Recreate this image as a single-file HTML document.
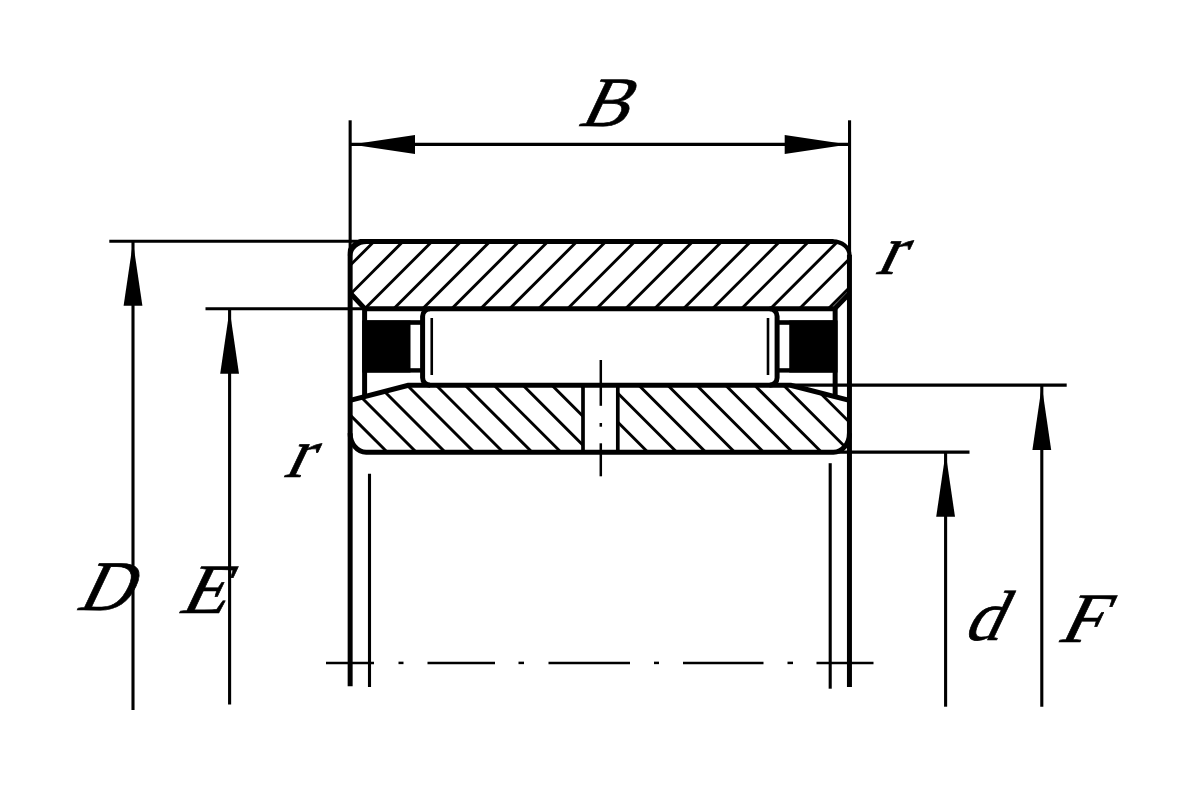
<!DOCTYPE html>
<html lang="en"><head><meta charset="utf-8"><title>Needle roller bearing dimensions</title>
<style>html,body{margin:0;padding:0;background:#fff;}body{width:1200px;height:812px;overflow:hidden;}svg{display:block;}svg line,svg path,svg polyline{stroke:#000;fill:none;stroke-linecap:butt;}svg text{font-family:"Liberation Serif","DejaVu Serif",serif;font-style:normal;fill:#000;}.fill{fill:#000 !important;stroke:none !important;}</style></head><body>
<svg width="1200" height="812" viewBox="0 0 1200 812" role="img" aria-label="Needle roller bearing cross-section with dimensions B, D, E, d, F and chamfer r">
<rect x="0" y="0" width="1200" height="812" fill="#fff"/>
<defs>
<clipPath id="co"><path d="M350.15,255.200 A16.5,13.8 0 0 1 366.65,241.4 L832.95,241.4 A16.5,13.8 0 0 1 849.45,255.200 L849.45,293.5 L834.6,308.85 L365,308.85 L350.15,293 Z"/></clipPath>
<clipPath id="ci"><path d="M350.15,400.4 L408.5,385.25 L583,385.25 L583,452.2 L366.15,452.2 A16,19 0 0 1 350.15,433.2 Z"/><path d="M617.8,385.25 L790.5,385.25 L849.45,400.4 L849.45,433.2 A16,19 0 0 1 833.45,452.2 L617.8,452.2 Z"/></clipPath>
<clipPath id="ctl"><rect x="347.65" y="238.90" width="30" height="30"/></clipPath>
</defs>
<g clip-path="url(#co)">
<line x1="237.56" y1="320.00" x2="327.56" y2="230.00" stroke-width="2.9" />
<line x1="266.54" y1="320.00" x2="356.54" y2="230.00" stroke-width="2.9" />
<line x1="295.52" y1="320.00" x2="385.52" y2="230.00" stroke-width="2.9" />
<line x1="324.50" y1="320.00" x2="414.50" y2="230.00" stroke-width="2.9" />
<line x1="353.48" y1="320.00" x2="443.48" y2="230.00" stroke-width="2.9" />
<line x1="382.46" y1="320.00" x2="472.46" y2="230.00" stroke-width="2.9" />
<line x1="411.44" y1="320.00" x2="501.44" y2="230.00" stroke-width="2.9" />
<line x1="440.42" y1="320.00" x2="530.42" y2="230.00" stroke-width="2.9" />
<line x1="469.40" y1="320.00" x2="559.40" y2="230.00" stroke-width="2.9" />
<line x1="498.38" y1="320.00" x2="588.38" y2="230.00" stroke-width="2.9" />
<line x1="527.36" y1="320.00" x2="617.36" y2="230.00" stroke-width="2.9" />
<line x1="556.34" y1="320.00" x2="646.34" y2="230.00" stroke-width="2.9" />
<line x1="585.32" y1="320.00" x2="675.32" y2="230.00" stroke-width="2.9" />
<line x1="614.30" y1="320.00" x2="704.30" y2="230.00" stroke-width="2.9" />
<line x1="643.28" y1="320.00" x2="733.28" y2="230.00" stroke-width="2.9" />
<line x1="672.26" y1="320.00" x2="762.26" y2="230.00" stroke-width="2.9" />
<line x1="701.24" y1="320.00" x2="791.24" y2="230.00" stroke-width="2.9" />
<line x1="730.22" y1="320.00" x2="820.22" y2="230.00" stroke-width="2.9" />
<line x1="759.20" y1="320.00" x2="849.20" y2="230.00" stroke-width="2.9" />
<line x1="788.18" y1="320.00" x2="878.18" y2="230.00" stroke-width="2.9" />
<line x1="817.16" y1="320.00" x2="907.16" y2="230.00" stroke-width="2.9" />
<line x1="846.14" y1="320.00" x2="936.14" y2="230.00" stroke-width="2.9" />
<line x1="875.12" y1="320.00" x2="965.12" y2="230.00" stroke-width="2.9" />
</g>
<g clip-path="url(#ci)">
<line x1="218.25" y1="370.00" x2="313.25" y2="465.00" stroke-width="2.9" />
<line x1="247.20" y1="370.00" x2="342.20" y2="465.00" stroke-width="2.9" />
<line x1="276.15" y1="370.00" x2="371.15" y2="465.00" stroke-width="2.9" />
<line x1="305.10" y1="370.00" x2="400.10" y2="465.00" stroke-width="2.9" />
<line x1="334.05" y1="370.00" x2="429.05" y2="465.00" stroke-width="2.9" />
<line x1="363.00" y1="370.00" x2="458.00" y2="465.00" stroke-width="2.9" />
<line x1="391.95" y1="370.00" x2="486.95" y2="465.00" stroke-width="2.9" />
<line x1="420.90" y1="370.00" x2="515.90" y2="465.00" stroke-width="2.9" />
<line x1="449.85" y1="370.00" x2="544.85" y2="465.00" stroke-width="2.9" />
<line x1="478.80" y1="370.00" x2="573.80" y2="465.00" stroke-width="2.9" />
<line x1="507.75" y1="370.00" x2="602.75" y2="465.00" stroke-width="2.9" />
<line x1="536.70" y1="370.00" x2="631.70" y2="465.00" stroke-width="2.9" />
<line x1="565.65" y1="370.00" x2="660.65" y2="465.00" stroke-width="2.9" />
<line x1="594.60" y1="370.00" x2="689.60" y2="465.00" stroke-width="2.9" />
<line x1="623.55" y1="370.00" x2="718.55" y2="465.00" stroke-width="2.9" />
<line x1="652.50" y1="370.00" x2="747.50" y2="465.00" stroke-width="2.9" />
<line x1="681.45" y1="370.00" x2="776.45" y2="465.00" stroke-width="2.9" />
<line x1="710.40" y1="370.00" x2="805.40" y2="465.00" stroke-width="2.9" />
<line x1="739.35" y1="370.00" x2="834.35" y2="465.00" stroke-width="2.9" />
<line x1="768.30" y1="370.00" x2="863.30" y2="465.00" stroke-width="2.9" />
<line x1="797.25" y1="370.00" x2="892.25" y2="465.00" stroke-width="2.9" />
<line x1="826.20" y1="370.00" x2="921.20" y2="465.00" stroke-width="2.9" />
<line x1="855.15" y1="370.00" x2="950.15" y2="465.00" stroke-width="2.9" />
</g>
<line x1="350.15" y1="120.30" x2="350.15" y2="260.00" stroke-width="3.1" />
<line x1="849.55" y1="120.30" x2="849.55" y2="260.00" stroke-width="3.1" />
<line x1="350.00" y1="144.40" x2="849.50" y2="144.40" stroke-width="3.1" />
<path class="fill" d="M351.5,144.4 L415,134.9 L415,153.9 Z"/>
<path class="fill" d="M848.2,144.4 L784.7,134.9 L784.7,153.9 Z"/>
<line x1="109.30" y1="241.30" x2="365.00" y2="241.30" stroke-width="3.1" />
<line x1="205.50" y1="308.70" x2="366.00" y2="308.70" stroke-width="3.1" />
<line x1="788.00" y1="385.10" x2="1066.70" y2="385.10" stroke-width="3.1" />
<line x1="833.00" y1="452.10" x2="969.50" y2="452.10" stroke-width="3.1" />
<line x1="133.00" y1="241.30" x2="133.00" y2="710.00" stroke-width="3.1" />
<line x1="229.60" y1="308.70" x2="229.60" y2="704.50" stroke-width="3.1" />
<line x1="945.60" y1="451.80" x2="945.60" y2="706.70" stroke-width="3.1" />
<line x1="1041.80" y1="384.80" x2="1041.80" y2="706.70" stroke-width="3.1" />
<path class="fill" d="M133,242.2 L123.6,305.8 L142.4,305.8 Z"/>
<path class="fill" d="M229.6,309.6 L220.2,373.8 L239.0,373.8 Z"/>
<path class="fill" d="M1041.8,385.8 L1032.399,450 L1051.2,450 Z"/>
<path class="fill" d="M945.6,452.8 L936.2,516.8 L955.0,516.8 Z"/>
<line x1="326.00" y1="662.90" x2="374.00" y2="662.90" stroke-width="2.5" />
<line x1="398.50" y1="662.90" x2="403.50" y2="662.90" stroke-width="2.5" />
<line x1="427.50" y1="662.90" x2="495.00" y2="662.90" stroke-width="2.5" />
<line x1="518.50" y1="662.90" x2="524.00" y2="662.90" stroke-width="2.5" />
<line x1="548.50" y1="662.90" x2="630.00" y2="662.90" stroke-width="2.5" />
<line x1="654.00" y1="662.90" x2="659.00" y2="662.90" stroke-width="2.5" />
<line x1="683.00" y1="662.90" x2="763.50" y2="662.90" stroke-width="2.5" />
<line x1="787.50" y1="662.90" x2="793.00" y2="662.90" stroke-width="2.5" />
<line x1="816.50" y1="662.90" x2="873.50" y2="662.90" stroke-width="2.5" />
<line x1="600.80" y1="360.00" x2="600.80" y2="405.80" stroke-width="2.5" />
<line x1="600.80" y1="423.00" x2="600.80" y2="426.70" stroke-width="2.5" />
<line x1="600.80" y1="443.30" x2="600.80" y2="476.30" stroke-width="2.5" />
<line x1="369.50" y1="473.80" x2="369.50" y2="687.00" stroke-width="3.1" />
<line x1="830.20" y1="463.20" x2="830.20" y2="688.70" stroke-width="3.1" />
<line x1="350.15" y1="254.70" x2="350.15" y2="686.30" stroke-width="5.0" />
<line x1="849.45" y1="254.70" x2="849.45" y2="687.00" stroke-width="5.0" />
<path clip-path="url(#ctl)" d="M349.75,255.20 A16.9,14.200 0 0 1 366.65,241.00" stroke-width="5.8"/>
<path d="M832.95,241.4 A16.5,13.8 0 0 1 849.45,255.200" stroke-width="4.2"/>
<line x1="364.65" y1="241.40" x2="833.45" y2="241.40" stroke-width="5.0" />
<path d="M350.15,293 L365,308.85 L834.6,308.85 L849.45,293.5" stroke-width="5.0" stroke-linejoin="miter"/>
<path d="M350.15,400.4 L408.5,385.25 L790.5,385.25 L849.45,400.4" stroke-width="5.0" stroke-linejoin="round"/>
<path d="M350.15,433.2 A16,19 0 0 0 366.15,452.2 L833.45,452.2 A16,19 0 0 0 849.45,433.2" stroke-width="5.0"/>
<line x1="583.00" y1="385.25" x2="583.00" y2="452.20" stroke-width="3.7" />
<line x1="617.80" y1="385.25" x2="617.80" y2="452.20" stroke-width="3.7" />
<line x1="364.60" y1="308.85" x2="364.60" y2="395.00" stroke-width="5.0" />
<rect class="fill" x="362.20" y="320.5" width="48.30" height="52"/>
<rect class="fill" x="364.60" y="320.2" width="58.15" height="4.6"/>
<rect class="fill" x="364.60" y="368.2" width="58.15" height="4.4"/>
<line x1="431.75" y1="318.00" x2="431.75" y2="375.00" stroke-width="2.6" />
<line x1="835.15" y1="308.85" x2="835.15" y2="395.00" stroke-width="5.0" />
<rect class="fill" x="789.25" y="320.5" width="48.30" height="52"/>
<rect class="fill" x="777.00" y="320.2" width="58.15" height="4.6"/>
<rect class="fill" x="777.00" y="368.2" width="58.15" height="4.4"/>
<line x1="768.00" y1="318.00" x2="768.00" y2="375.00" stroke-width="2.6" />
<path d="M430.1,308.85 A7.5,7.5 0 0 0 422.6,316.35 L422.6,377.75 A7.5,7.5 0 0 0 430.1,385.25" stroke-width="5.0"/>
<path d="M769.6,308.85 A7.5,7.5 0 0 1 777.1,316.35 L777.1,377.75 A7.5,7.5 0 0 1 769.6,385.25" stroke-width="5.0"/>
<text transform="matrix(1.018,0,-0.474,1,577.05,125.91)" x="0" y="0" font-size="71.0" stroke="#000" stroke-width="0.7" stroke-linejoin="round">B</text>
<text transform="matrix(1.029,0,-0.474,1,75.02,610.44)" x="0" y="0" font-size="71.0" stroke="#000" stroke-width="0.7" stroke-linejoin="round">D</text>
<text transform="matrix(1.060,0,-0.474,1,177.13,612.50)" x="0" y="0" font-size="71.0" stroke="#000" stroke-width="0.7" stroke-linejoin="round">E</text>
<text transform="matrix(1.060,0,-0.474,1,1056.37,641.65)" x="0" y="0" font-size="71.0" stroke="#000" stroke-width="0.7" stroke-linejoin="round">F</text>
<text transform="matrix(1.027,0,-0.474,1,874.56,274.02)" x="0" y="0" font-size="71.0" stroke="#000" stroke-width="0.7" stroke-linejoin="round">r</text>
<text transform="matrix(1.022,0,-0.474,1,282.66,476.82)" x="0" y="0" font-size="71.0" stroke="#000" stroke-width="0.7" stroke-linejoin="round">r</text>
<text transform="matrix(1.002,0,-0.474,1,962.00,640.22)" x="0" y="0" font-size="71.0" stroke="#000" stroke-width="0.7" stroke-linejoin="round">d</text>
</svg>
</body></html>
